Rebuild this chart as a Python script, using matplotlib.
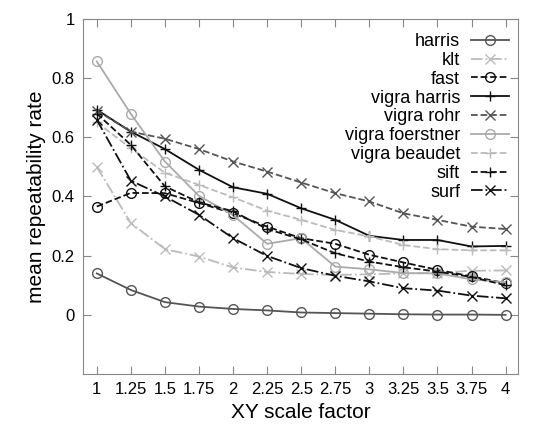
import matplotlib.pyplot as plt

plt.rcParams['font.family'] = ['Liberation Sans', 'DejaVu Sans']

scale = [1, 1.25, 1.5, 1.75, 2, 2.25, 2.5, 2.75, 3, 3.25, 3.5, 3.75, 4]
tick_labels = ['1', '1.25', '1.5', '1.75', '2', '2.25', '2.5', '2.75', '3', '3.25', '3.5', '3.75', '4']

harris = [0.140, 0.084, 0.043, 0.028, 0.020, 0.015, 0.008, 0.006, 0.004, 0.002, 0.001, 0.001, 0.0]
klt = [0.50, 0.31, 0.222, 0.197, 0.16, 0.145, 0.138, 0.135, 0.137, 0.14, 0.142, 0.149, 0.15]
fast = [0.366, 0.412, 0.411, 0.378, 0.343, 0.298, 0.259, 0.24, 0.203, 0.177, 0.152, 0.13, 0.107]
vigra_harris = [0.693, 0.619, 0.56, 0.49, 0.431, 0.409, 0.36, 0.321, 0.267, 0.253, 0.253, 0.231, 0.233]
vigra_rohr = [0.69, 0.619, 0.595, 0.56, 0.518, 0.484, 0.447, 0.411, 0.383, 0.343, 0.321, 0.298, 0.29]
vigra_foerstner = [0.856, 0.679, 0.518, 0.402, 0.337, 0.24, 0.259, 0.163, 0.154, 0.141, 0.14, 0.12, 0.11]
vigra_beaudet = [0.65, 0.563, 0.48, 0.439, 0.397, 0.352, 0.321, 0.287, 0.265, 0.236, 0.222, 0.218, 0.218]
sift = [0.68, 0.574, 0.434, 0.38, 0.35, 0.29, 0.255, 0.208, 0.18, 0.161, 0.146, 0.128, 0.10]
surf = [0.659, 0.453, 0.40, 0.338, 0.259, 0.199, 0.158, 0.132, 0.113, 0.09, 0.082, 0.065, 0.056]

series = [
    ('harris', harris, '#555555', '-', 'o'),
    ('klt', klt, '#bbbbbb', '-.', 'x'),
    ('fast', fast, '#111111', '--', 'o'),
    ('vigra harris', vigra_harris, '#111111', '-', '+'),
    ('vigra rohr', vigra_rohr, '#555555', '--', 'x'),
    ('vigra foerstner', vigra_foerstner, '#aaaaaa', '-', 'o'),
    ('vigra beaudet', vigra_beaudet, '#bbbbbb', '--', '+'),
    ('sift', sift, '#111111', '--', '+'),
    ('surf', surf, '#111111', '-.', 'x'),
]

fig = plt.figure(figsize=(5.4, 4.28), dpi=100)
ax = fig.add_axes([0.154, 0.126, 0.805, 0.83])

for name, vals, col, ls, mk in series:
    ax.plot(scale, vals, color=col, linestyle=ls, marker=mk, markersize=7,
            fillstyle='none', markeredgewidth=1.0, linewidth=1.3, label=name)

ax.set_xlim(0.9, 4.09)
ax.set_ylim(-0.2, 1.0)
ax.set_xticks(scale)
ax.set_xticklabels(tick_labels)
ax.set_yticks([0, 0.2, 0.4, 0.6, 0.8, 1])
ax.set_yticklabels(['0', '0.2', '0.4', '0.6', '0.8', '1'])
ax.tick_params(direction='in', length=6, color='#888888', labelsize=12,
               top=True, right=True, pad=6)
for sp in ax.spines.values():
    sp.set_color('#888888')

ax.set_xlabel('XY scale factor', fontsize=15)
ax.set_ylabel('mean repeatability rate', fontsize=15)

ax.legend(loc='upper right', frameon=False, markerfirst=False, fontsize=13,
          handlelength=2.1, handletextpad=0.6, labelspacing=0.1,
          borderaxespad=0.1, bbox_to_anchor=(1.0, 0.985))

fig.savefig('out.png', dpi=100)
